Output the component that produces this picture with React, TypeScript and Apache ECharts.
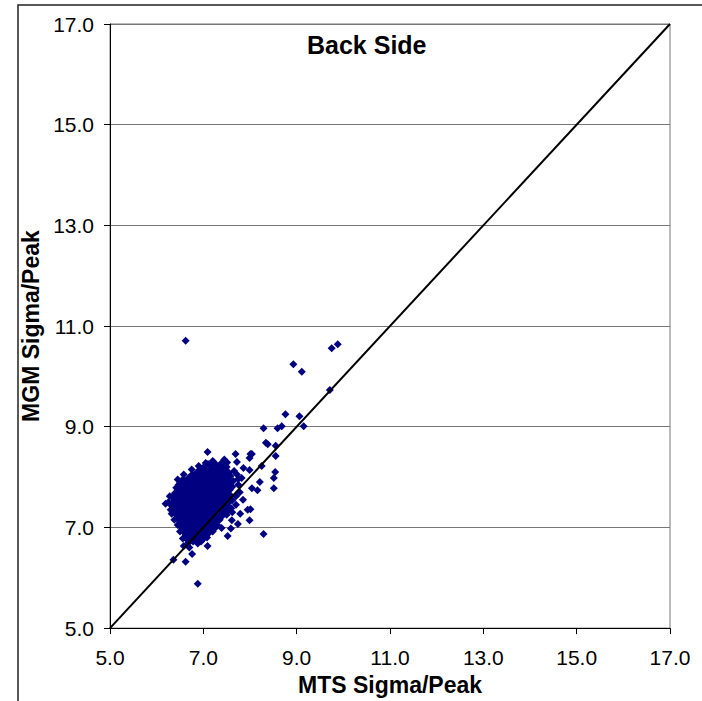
import React, { useEffect, useRef } from "react";
import * as echarts from "echarts";

// Axis ranges / ticks
const axisMin = 5;
const axisMax = 17;
const tickInterval = 2;

const chartTitle = "Back Side";
const xAxisName = "MTS Sigma/Peak";
const yAxisName = "MGM Sigma/Peak";

// Dense cluster of points [MTS, MGM]
const clusterPoints: [number, number][] = [
  [7.2, 8.32], [7.38, 8.27], [7.45, 8.31],
  [7.0, 8.19], [7.15, 8.23], [7.28, 8.18], [7.36, 8.22], [7.5, 8.2],
  [6.85, 8.08], [6.98, 8.12], [7.08, 8.09], [7.2, 8.13], [7.3, 8.07], [7.42, 8.11], [7.55, 8.08],
  [6.7, 7.99], [6.82, 8.03], [6.95, 7.98], [7.05, 8.02], [7.15, 7.97], [7.25, 8.01], [7.35, 8.04], [7.45, 7.98], [7.58, 8.02],
  [6.5, 7.88], [6.62, 7.92], [6.72, 7.87], [6.82, 7.91], [6.9, 7.89], [7.0, 7.93], [7.08, 7.88], [7.17, 7.92], [7.26, 7.87], [7.36, 7.91], [7.46, 7.89], [7.56, 7.93],
  [6.42, 7.79], [6.55, 7.82], [6.64, 7.77], [6.73, 7.81], [6.81, 7.78], [6.89, 7.83], [6.97, 7.79], [7.05, 7.82], [7.13, 7.77], [7.21, 7.81], [7.3, 7.78], [7.4, 7.83], [7.5, 7.79], [7.62, 7.81],
  [6.4, 7.69], [6.5, 7.72], [6.58, 7.68], [6.66, 7.71], [6.74, 7.67], [6.82, 7.72], [6.9, 7.69], [6.98, 7.73], [7.06, 7.68], [7.14, 7.71], [7.22, 7.67], [7.31, 7.72], [7.41, 7.69], [7.52, 7.71],
  [6.35, 7.59], [6.44, 7.62], [6.53, 7.58], [6.61, 7.61], [6.69, 7.57], [6.77, 7.62], [6.85, 7.59], [6.93, 7.63], [7.01, 7.58], [7.09, 7.61], [7.17, 7.57], [7.26, 7.62], [7.35, 7.59], [7.45, 7.61], [7.56, 7.58], [7.7, 7.62],
  [6.33, 7.49], [6.42, 7.52], [6.5, 7.48], [6.58, 7.51], [6.66, 7.47], [6.74, 7.52], [6.82, 7.49], [6.9, 7.53], [6.98, 7.48], [7.06, 7.51], [7.14, 7.47], [7.23, 7.52], [7.32, 7.49], [7.42, 7.51], [7.53, 7.48],
  [6.36, 7.39], [6.45, 7.42], [6.54, 7.38], [6.62, 7.41], [6.7, 7.37], [6.78, 7.42], [6.86, 7.39], [6.94, 7.43], [7.02, 7.38], [7.1, 7.41], [7.18, 7.37], [7.27, 7.42], [7.37, 7.39], [7.48, 7.41], [7.6, 7.38],
  [6.4, 7.29], [6.49, 7.32], [6.57, 7.28], [6.65, 7.31], [6.73, 7.27], [6.81, 7.32], [6.89, 7.29], [6.97, 7.33], [7.05, 7.28], [7.13, 7.31], [7.22, 7.27], [7.32, 7.32], [7.44, 7.29],
  [6.44, 7.19], [6.53, 7.22], [6.61, 7.18], [6.69, 7.21], [6.77, 7.17], [6.85, 7.22], [6.93, 7.19], [7.01, 7.23], [7.09, 7.18], [7.18, 7.21], [7.28, 7.17], [7.4, 7.22],
  [6.5, 7.09], [6.59, 7.12], [6.67, 7.08], [6.75, 7.11], [6.83, 7.07], [6.91, 7.12], [6.99, 7.09], [7.07, 7.13], [7.16, 7.08], [7.27, 7.11],
  [6.54, 6.99], [6.63, 7.02], [6.71, 6.98], [6.79, 7.01], [6.87, 6.97], [6.95, 7.02], [7.03, 6.99], [7.12, 7.03], [7.24, 6.98],
  [6.6, 6.89], [6.69, 6.92], [6.77, 6.88], [6.85, 6.91], [6.93, 6.87], [7.02, 6.92], [7.12, 6.89],
  [6.63, 6.79], [6.72, 6.82], [6.8, 6.78], [6.9, 6.81], [7.0, 6.77],
  [6.68, 6.69], [6.78, 6.72], [6.88, 6.68],
];

// In-between rows that fill the dense core
const fillPoints: [number, number][] = [
  [7.1, 8.26], [7.25, 8.25], [7.42, 8.24],
  [6.92, 8.15], [7.04, 8.16], [7.14, 8.14], [7.25, 8.16], [7.36, 8.15], [7.48, 8.14],
  [6.76, 8.05], [6.89, 8.06], [7.0, 8.04], [7.1, 8.06], [7.2, 8.05], [7.3, 8.04], [7.4, 8.06], [7.51, 8.05],
  [6.56, 7.95], [6.67, 7.96], [6.77, 7.94], [6.86, 7.96], [6.95, 7.95], [7.04, 7.94], [7.12, 7.96], [7.21, 7.95], [7.31, 7.94], [7.41, 7.96], [7.51, 7.95],
  [6.47, 7.85], [6.6, 7.86], [6.69, 7.84], [6.77, 7.86], [6.85, 7.85], [6.93, 7.84], [7.01, 7.86], [7.09, 7.85], [7.17, 7.84], [7.26, 7.86], [7.35, 7.85], [7.45, 7.84], [7.56, 7.86],
  [6.45, 7.75], [6.54, 7.76], [6.62, 7.74], [6.7, 7.76], [6.78, 7.75], [6.86, 7.74], [6.94, 7.76], [7.02, 7.75], [7.1, 7.74], [7.18, 7.76], [7.27, 7.75], [7.36, 7.74], [7.46, 7.76], [7.57, 7.75],
  [6.37, 7.65], [6.46, 7.66], [6.54, 7.64], [6.62, 7.66], [6.7, 7.65], [6.78, 7.64], [6.86, 7.66], [6.94, 7.65], [7.02, 7.64], [7.1, 7.66], [7.18, 7.65], [7.27, 7.64], [7.36, 7.66], [7.47, 7.65], [7.58, 7.64],
  [6.38, 7.55], [6.47, 7.56], [6.55, 7.54], [6.63, 7.56], [6.71, 7.55], [6.79, 7.54], [6.87, 7.56], [6.95, 7.55], [7.03, 7.54], [7.11, 7.56], [7.19, 7.55], [7.28, 7.54], [7.38, 7.56], [7.49, 7.55], [7.62, 7.54],
  [6.3, 7.45], [6.39, 7.46], [6.47, 7.44], [6.55, 7.46], [6.63, 7.45], [6.71, 7.44], [6.79, 7.46], [6.87, 7.45], [6.95, 7.44], [7.03, 7.46], [7.11, 7.45], [7.19, 7.44], [7.28, 7.46], [7.38, 7.45], [7.5, 7.44],
  [6.36, 7.35], [6.45, 7.36], [6.53, 7.34], [6.61, 7.36], [6.69, 7.35], [6.77, 7.34], [6.85, 7.36], [6.93, 7.35], [7.01, 7.34], [7.09, 7.36], [7.17, 7.35], [7.27, 7.34], [7.4, 7.36], [7.53, 7.35],
  [6.42, 7.25], [6.51, 7.26], [6.59, 7.24], [6.67, 7.26], [6.75, 7.25], [6.83, 7.24], [6.91, 7.26], [6.99, 7.25], [7.07, 7.24], [7.16, 7.26], [7.26, 7.25], [7.37, 7.24],
  [6.47, 7.15], [6.56, 7.16], [6.64, 7.14], [6.72, 7.16], [6.8, 7.15], [6.88, 7.14], [6.96, 7.16], [7.04, 7.15], [7.13, 7.14], [7.22, 7.16], [7.33, 7.15],
  [6.52, 7.05], [6.61, 7.06], [6.69, 7.04], [6.77, 7.06], [6.85, 7.05], [6.93, 7.04], [7.01, 7.06], [7.09, 7.05], [7.19, 7.04],
  [6.57, 6.95], [6.66, 6.96], [6.74, 6.94], [6.82, 6.96], [6.9, 6.95], [6.98, 6.94], [7.07, 6.96], [7.17, 6.95],
  [6.62, 6.85], [6.7, 6.86], [6.78, 6.84], [6.86, 6.86], [6.95, 6.85], [7.05, 6.84],
  [6.66, 6.75], [6.74, 6.76], [6.83, 6.74], [6.93, 6.76],
];

// Points scattered around the edge of the cluster
const edgePoints: [number, number][] = [
  [6.28, 7.62], [6.3, 7.35], [6.25, 7.5], [6.45, 7.95], [6.58, 8.05], [6.75, 8.15], [6.9, 8.22], [7.05, 8.28],
  [6.38, 7.15], [6.45, 7.05], [6.5, 6.92], [6.56, 6.78], [7.2, 6.92], [7.3, 7.05], [7.35, 7.15], [7.5, 7.25],
  [7.62, 7.3], [7.7, 7.45], [7.75, 7.85], [7.72, 8.05], [6.7, 6.6], [6.95, 6.72], [7.08, 6.8], [7.15, 6.95],
  [7.66, 8.12], [7.64, 7.92],
];

// Outlying points
const outlierPoints: [number, number][] = [
  [9.88, 10.64], [9.75, 10.56], [8.93, 10.24], [9.11, 10.09], [9.71, 9.73],
  [8.76, 9.25], [9.06, 9.21], [9.15, 9.01], [8.29, 8.97], [8.59, 8.97], [8.68, 9.01],
  [8.34, 8.68], [8.38, 8.65], [8.55, 8.62], [8.55, 8.42], [8.04, 8.46], [6.62, 10.71],
  [7.09, 8.5], [7.69, 8.46], [8.01, 8.46], [7.99, 8.38], [8.25, 8.22], [8.54, 8.1],
  [8.51, 7.98], [8.51, 7.78], [8.21, 7.9], [8.16, 7.74], [8.04, 7.78], [7.99, 8.14],
  [7.86, 8.18], [7.72, 8.3], [7.45, 8.35], [7.51, 8.29], [7.23, 8.29], [7.82, 7.98],
  [7.75, 7.96], [7.78, 7.7], [7.85, 7.55], [8.01, 7.36], [7.95, 7.35], [7.79, 7.27],
  [7.99, 7.14], [7.61, 7.14], [7.74, 7.07], [7.59, 6.98], [7.39, 6.99], [7.52, 6.83],
  [8.29, 6.87], [7.09, 6.63], [6.58, 6.63], [6.76, 6.47], [6.62, 6.32], [6.36, 6.36],
  [6.88, 5.88], [6.19, 7.47], [6.32, 7.27], [6.92, 8.02], [6.52, 7.81],
];

// Reference line y = x
const diagonal: [number, number][] = [
  [5, 5],
  [17, 17],
];

const FONT = "'Liberation Sans', Arial, sans-serif";

export default function App() {
  const ref = useRef<HTMLDivElement>(null);

  useEffect(() => {
    if (!ref.current) return;
    const chart = echarts.init(ref.current, undefined, { renderer: "svg" });
    const axisCommon = {
      type: "value" as const,
      min: axisMin,
      max: axisMax,
      interval: tickInterval,
      axisLine: { show: true, lineStyle: { color: "#000", width: 1 } },
      axisTick: { show: true, inside: false, length: 6, lineStyle: { color: "#000", width: 1 } },
      axisLabel: {
        formatter: (v: number) => v.toFixed(1),
        fontSize: 21,
        color: "#000",
        fontFamily: FONT,
      },
      nameLocation: "middle" as const,
      nameTextStyle: { fontSize: 23, fontWeight: "bold" as const, color: "#000", fontFamily: FONT },
    };
    chart.setOption({
      animation: false,
      backgroundColor: "#fff",
      title: {
        text: chartTitle,
        left: 302,
        top: 27,
        textStyle: { fontSize: 25, fontWeight: "bold", color: "#000", fontFamily: FONT },
      },
      graphic: [
        {
          type: "rect",
          shape: { x: 18, y: 5, width: 800, height: 800 },
          style: { fill: "none", stroke: "#222", lineWidth: 1.5 },
          silent: true,
        },
      ],
      grid: {
        left: 110,
        top: 24,
        width: 560,
        height: 605,
        show: true,
        borderColor: "#777",
        borderWidth: 1,
        backgroundColor: "transparent",
      },
      xAxis: {
        ...axisCommon,
        axisLabel: { ...axisCommon.axisLabel, margin: 19 },
        splitLine: { show: false },
        name: xAxisName,
        nameGap: 38,
      },
      yAxis: {
        ...axisCommon,
        axisLabel: { ...axisCommon.axisLabel, margin: 16 },
        splitLine: { show: true, lineStyle: { color: "#777", width: 1 } },
        name: yAxisName,
        nameGap: 61,
        nameRotate: 90,
      },
      series: [
        {
          type: "scatter",
          data: [...clusterPoints, ...fillPoints, ...edgePoints, ...outlierPoints],
          symbol: "diamond",
          symbolSize: 8,
          itemStyle: { color: "#000080", opacity: 1 },
          z: 3,
        },
        {
          type: "line",
          data: diagonal,
          symbol: "none",
          lineStyle: { color: "#000", width: 2 },
          z: 4,
        },
      ],
    });
    return () => chart.dispose();
  }, []);

  return (
    <div
      ref={ref}
      style={{ position: "absolute", left: 0, top: 0, width: 702, height: 701 }}
    />
  );
}
